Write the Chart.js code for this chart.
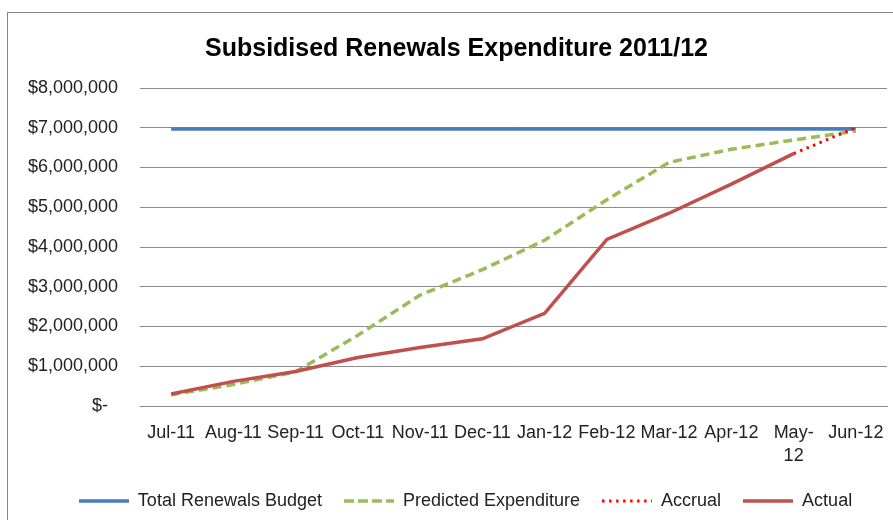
<!DOCTYPE html>
<html>
<head>
<meta charset="utf-8">
<script src="https://cdn.jsdelivr.net/npm/chart.js@4"></script>
<style>
  html, body { margin: 0; padding: 0; overflow: hidden; background: #fff; }
  #frame {
    position: absolute; left: 7px; top: 12px;
    width: 900px; height: 515px;
    border: 1px solid #868686;
  }
</style>
</head>
<body>
<div id="frame"><canvas id="chart" width="900" height="515"></canvas></div>
<script>
// months on the category axis (May wraps onto two lines)
const months = ['Jul-11', 'Aug-11', 'Sep-11', 'Oct-11', 'Nov-11', 'Dec-11',
  'Jan-12', 'Feb-12', 'Mar-12', 'Apr-12', ['May-', '12'], 'Jun-12'];

// series values
const budget = [6970000, 6970000, 6970000, 6970000, 6970000, 6970000,
  6970000, 6970000, 6970000, 6970000, 6970000, 6970000];
const predicted = [280000, 540000, 860000, 1780000, 2790000, 3430000,
  4170000, 5190000, 6130000, 6460000, 6690000, 6920000];
const accrual = [null, null, null, null, null, null,
  null, null, null, null, 6350000, 7000000];
const actual = [300000, 620000, 870000, 1220000, 1470000, 1690000,
  2330000, 4190000, 4850000, 5580000, 6350000, null];

const yTicks = [0, 1000000, 2000000, 3000000, 4000000, 5000000, 6000000, 7000000, 8000000];

const font = "'Liberation Sans', Arial, sans-serif";
const textColor = '#222';

// small line samples for the legend (so dashes show up)
function lineSample(color, width, dash) {
  let c = document.createElement('canvas');
  c.width = 50;
  c.height = 6;
  let g = c.getContext('2d');
  g.strokeStyle = color;
  g.lineWidth = width;
  g.setLineDash(dash);
  g.beginPath();
  g.moveTo(0, 3);
  g.lineTo(50, 3);
  g.stroke();
  return c;
}

const samples = [
  lineSample('#4A7EBB', 3.5, []),
  lineSample('#9BBB59', 3.5, [10, 4]),
  lineSample('#FF0000', 3, [2.5, 4.5]),
  lineSample('#C0504D', 3.5, [])
];

// nudge title and legend to where the original centres them
const shiftBoxes = {
  id: 'shiftBoxes',
  afterLayout(chart) {
    chart.titleBlock.left += 9;
    chart.titleBlock.right += 9;
    chart.legend.left += 18;
    chart.legend.right += 18;
  }
};

let ctx = document.getElementById('chart').getContext('2d');

new Chart(ctx, {
  type: 'line',
  data: {
    labels: months,
    datasets: [
      {
        label: 'Total Renewals Budget',
        data: budget,
        borderColor: '#4A7EBB',
        borderWidth: 3.5,
        order: 3
      },
      {
        label: 'Predicted Expenditure',
        data: predicted,
        borderColor: '#9BBB59',
        borderWidth: 3.5,
        borderDash: [9, 5],
        order: 2
      },
      {
        label: 'Accrual',
        data: accrual,
        borderColor: '#FF0000',
        borderWidth: 3,
        borderDash: [2.5, 4.5],
        order: 1
      },
      {
        label: 'Actual',
        data: actual,
        borderColor: '#C0504D',
        borderWidth: 3.5,
        order: 0
      }
    ]
  },
  plugins: [shiftBoxes],
  options: {
    responsive: false,
    animation: false,
    spanGaps: false,
    elements: {
      point: { radius: 0, hoverRadius: 0 },
      line: { tension: 0, borderCapStyle: 'butt' }
    },
    layout: { padding: { left: 0, right: 21, top: 0, bottom: 8 } },
    plugins: {
      title: {
        display: true,
        text: 'Subsidised Renewals Expenditure 2011/12',
        color: '#000',
        font: { family: font, size: 25, weight: 'bold' },
        padding: { top: 21, bottom: 24 }
      },
      legend: {
        position: 'bottom',
        labels: {
          color: textColor,
          font: { family: font, size: 18 },
          usePointStyle: true,
          pointStyleWidth: 50,
          padding: 22,
          sort: (a, b) => a.datasetIndex - b.datasetIndex,
          generateLabels: chart => {
            let items = Chart.defaults.plugins.legend.labels.generateLabels(chart);
            items.forEach(it => { it.pointStyle = samples[it.datasetIndex]; });
            return items;
          }
        }
      },
      tooltip: { enabled: false }
    },
    scales: {
      x: {
        offset: true,
        afterFit: axis => { axis.height = 64; },
        grid: { display: false, drawTicks: false },
        border: { display: true, color: '#8C8C8C' },
        ticks: {
          color: textColor,
          font: { family: font, size: 18, lineHeight: 1.28 },
          autoSkip: false,
          maxRotation: 0,
          padding: 15.5
        }
      },
      y: {
        min: 0,
        max: 8000000,
        afterFit: axis => { axis.width = 132; },
        afterBuildTicks: axis => { axis.ticks = yTicks.map(v => ({ value: v })); },
        grid: { color: '#8C8C8C', drawTicks: false },
        border: { display: false },
        ticks: {
          color: textColor,
          font: { family: font, size: 18 },
          padding: 22,
          callback: v => v === 0 ? '$-  ' : '$' + v.toLocaleString('en-US')
        }
      }
    }
  }
});
</script>
</body>
</html>
